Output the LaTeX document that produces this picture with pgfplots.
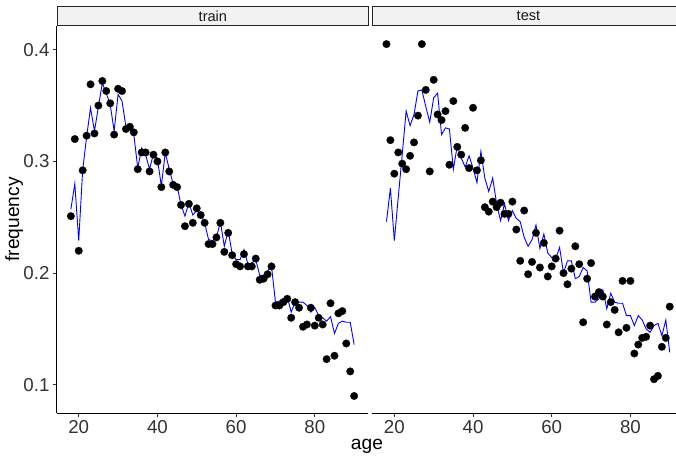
\documentclass[border=0pt]{standalone}
\usepackage{fontspec}
\setmainfont{Liberation Sans}
\usepackage{pgfplots}
\usepackage{pgfplotstable}
\pgfplotsset{compat=1.18}
\definecolor{stripfill}{HTML}{F2F2F2}
\definecolor{ticktxt}{HTML}{333333}

\pgfplotstableread{
age trp trl tep tel
18 0.251 0.257 0.405 0.246
19 0.320 0.280 0.319 0.276
20 0.220 0.229 0.289 0.229
21 0.292 0.292 0.308 0.268
22 0.323 0.322 0.298 0.306
23 0.369 0.348 0.293 0.345
24 0.325 0.327 0.305 0.332
25 0.350 0.349 0.317 0.342
26 0.372 0.370 0.341 0.363
27 0.363 0.361 0.405 0.364
28 0.352 0.351 0.364 0.349
29 0.324 0.327 0.291 0.335
30 0.365 0.360 0.373 0.357
31 0.363 0.354 0.342 0.361
32 0.329 0.331 0.337 0.324
33 0.331 0.328 0.345 0.330
34 0.326 0.324 0.297 0.329
35 0.293 0.294 0.354 0.293
36 0.308 0.312 0.313 0.314
37 0.308 0.306 0.306 0.303
38 0.291 0.293 0.330 0.295
39 0.306 0.307 0.294 0.305
40 0.300 0.302 0.348 0.294
41 0.277 0.278 0.292 0.281
42 0.308 0.308 0.301 0.309
43 0.291 0.293 0.259 0.285
44 0.279 0.280 0.255 0.273
45 0.277 0.278 0.264 0.285
46 0.261 0.261 0.259 0.262
47 0.242 0.251 0.263 0.247
48 0.262 0.263 0.253 0.262
49 0.245 0.252 0.253 0.247
50 0.258 0.256 0.264 0.256
51 0.252 0.253 0.239 0.249
52 0.245 0.245 0.211 0.246
53 0.226 0.230 0.256 0.232
54 0.226 0.229 0.199 0.224
55 0.232 0.232 0.210 0.230
56 0.245 0.246 0.236 0.243
57 0.219 0.224 0.205 0.222
58 0.236 0.238 0.227 0.235
59 0.216 0.217 0.197 0.218
60 0.208 0.212 0.206 0.214
61 0.206 0.212 0.213 0.213
62 0.217 0.221 0.238 0.223
63 0.206 0.208 0.200 0.200
64 0.206 0.209 0.190 0.211
65 0.213 0.212 0.204 0.211
66 0.194 0.198 0.224 0.195
67 0.195 0.198 0.208 0.197
68 0.199 0.202 0.156 0.205
69 0.206 0.206 0.195 0.202
70 0.171 0.174 0.209 0.174
71 0.171 0.175 0.179 0.174
72 0.174 0.177 0.183 0.177
73 0.177 0.179 0.179 0.185
74 0.160 0.165 0.154 0.168
75 0.174 0.174 0.174 0.182
76 0.169 0.174 0.167 0.174
77 0.152 0.174 0.147 0.173
78 0.154 0.171 0.193 0.173
79 0.169 0.165 0.151 0.162
80 0.153 0.169 0.193 0.162
81 0.160 0.162 0.128 0.153
82 0.154 0.160 0.136 0.162
83 0.123 0.157 0.142 0.158
84 0.173 0.161 0.143 0.150
85 0.126 0.146 0.153 0.147
86 0.164 0.155 0.105 0.153
87 0.166 0.157 0.108 0.155
88 0.137 0.156 0.134 0.144
89 0.112 0.156 0.142 0.158
90 0.090 0.136 0.170 0.129
}\data

\begin{document}
\begin{tikzpicture}
\pgfplotsset{
  panel/.style={
    scale only axis,
    width=311.6bp, height=387.3bp,
    xmin=14.4, xmax=93.6, ymin=0.0745, ymax=0.4212,
    anchor=south west,
    tick align=outside,
    major tick length=3.7bp,
    tick style={color=black!80, line width=0.8bp},
    axis line style={color=black, line width=0.9bp},
    xtick={20,40,60,80}, xticklabels={20,40,60,80},
    ytick={0.1,0.2,0.3,0.4}, yticklabels={0.1,0.2,0.3,0.4},
    ticklabel style={font=\fontsize{18.7bp}{20bp}\selectfont, text=ticktxt},
  },
  pts/.style={only marks, mark=*, mark size=3.8bp, mark options={draw=black, fill=black, line width=0.2bp}},
  fit/.style={no marks, color=blue, line width=0.9bp},
}
\begin{axis}[panel, at={(56.7bp,43.7bp)}, axis x line*=bottom, axis y line*=left]
  \addplot[pts] table[x=age, y=trp] {\data};
  \addplot[fit] table[x=age, y=trl] {\data};
\end{axis}
\begin{axis}[panel, at={(372.3bp,43.7bp)}, axis x line*=bottom, axis y line=none]
  \addplot[pts] table[x=age, y=tep] {\data};
  \addplot[fit] table[x=age, y=tel] {\data};
\end{axis}
\node[draw=black!85, line width=0.8bp, fill=stripfill, minimum width=311.6bp, minimum height=19.3bp, inner sep=0pt, anchor=south west, font=\fontsize{14.6bp}{15bp}\selectfont, text=black!90] at (56.7bp,431bp) {train};
\node[draw=black!85, line width=0.8bp, fill=stripfill, minimum width=311.6bp, minimum height=19.3bp, inner sep=0pt, anchor=south west, font=\fontsize{14.6bp}{15bp}\selectfont, text=black!90] at (372.3bp,431bp) {test};
\node[anchor=base, font=\fontsize{19.2bp}{20bp}\selectfont] at (367bp,8bp) {age};
\node[anchor=base, rotate=90, font=\fontsize{19.2bp}{20bp}\selectfont] at (19bp,237.5bp) {frequency};
\pgfresetboundingbox
\useasboundingbox (0bp,0bp) rectangle (676bp,457bp);
\end{tikzpicture}
\end{document}
